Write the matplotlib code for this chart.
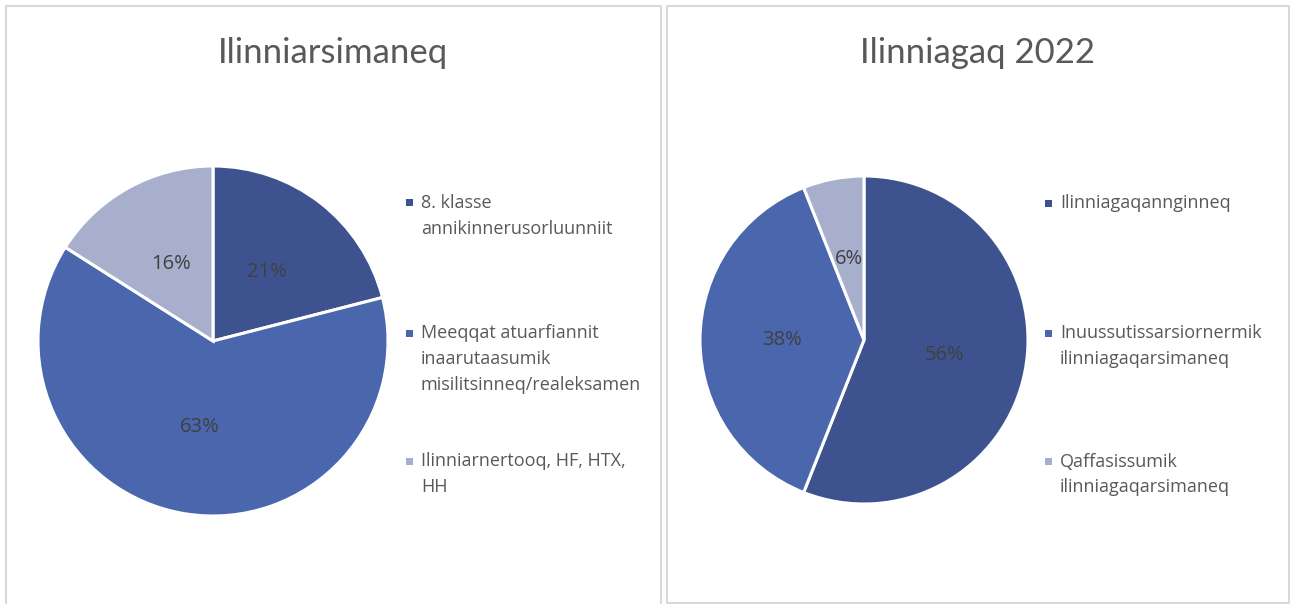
import matplotlib.pyplot as plt
from matplotlib.patches import Rectangle

plt.rcParams['font.family'] = ['Open Sans', 'DejaVu Sans']

# Data
titel_1 = 'Ilinniarsimaneq'
labels_1 = ['8. klasse\nannikinnerusorluunniit',
            'Meeqqat atuarfiannit\ninaarutaasumik\nmisilitsinneq/realeksamen',
            'Ilinniarnertooq, HF, HTX,\nHH']
values_1 = [21, 63, 16]

titel_2 = 'Ilinniagaq 2022'
labels_2 = ['Ilinniagaqannginneq',
            'Inuussutissarsiornermik\nilinniagaqarsimaneq',
            'Qaffasissumik\nilinniagaqarsimaneq']
values_2 = [56, 38, 6]

farver = ['#3E5290', '#4A67AE', '#A8AFCD']
tekst = '#595959'

W, H = 1290, 604
fig = plt.figure(figsize=(W / 100, H / 100), dpi=100)


def px(x, y):
    return x / W, 1 - y / H


# Rammer
for x0, y0, x1, y1 in [(6, 6, 661, 640), (667, 6, 1289, 603)]:
    fig.patches.append(Rectangle((x0 / W, 1 - y1 / H), (x1 - x0) / W, (y1 - y0) / H,
                                 transform=fig.transFigure, fill=False,
                                 edgecolor='#D9D9D9', lw=1.5))

paneler = [
    (titel_1, labels_1, values_1, (213, 341, 175), 333, 409, [202, 333, 461]),
    (titel_2, labels_2, values_2, (864, 340, 164), 978, 1048, [203, 333, 461]),
]

for titel, labels, values, (cx, cy, r), tx, lx, ly in paneler:
    ax = fig.add_axes([(cx - r) / W, (H - cy - r) / H, 2 * r / W, 2 * r / H])
    wedges, _, pcts = ax.pie(values, colors=farver, startangle=90, counterclock=False,
                             autopct='%1.0f%%', pctdistance=0.5,
                             wedgeprops=dict(edgecolor='white', linewidth=2.2),
                             textprops=dict(color='#404040', fontsize=14.5))
    ax.set_xlim(-1, 1)
    ax.set_ylim(-1, 1)
    for w in wedges:
        w.set_clip_on(False)

    fig.text(*px(tx, 63), titel, ha='center', va='baseline', fontsize=25,
             color=tekst, family=['Lato', 'DejaVu Sans'])

    # Legende
    for farve, label, y in zip(farver, labels, ly):
        fig.patches.append(Rectangle(px(lx - 3.5, y + 3.5), 7 / W, 7 / H,
                                     transform=fig.transFigure, color=farve, lw=0))
        for i, linje in enumerate(label.split('\n')):
            fig.text(*px(lx + 12, y + 5.5 + 26 * i), linje, ha='left', va='baseline',
                     fontsize=13, color=tekst)

fig.savefig('out.png', dpi=100, facecolor='white')
